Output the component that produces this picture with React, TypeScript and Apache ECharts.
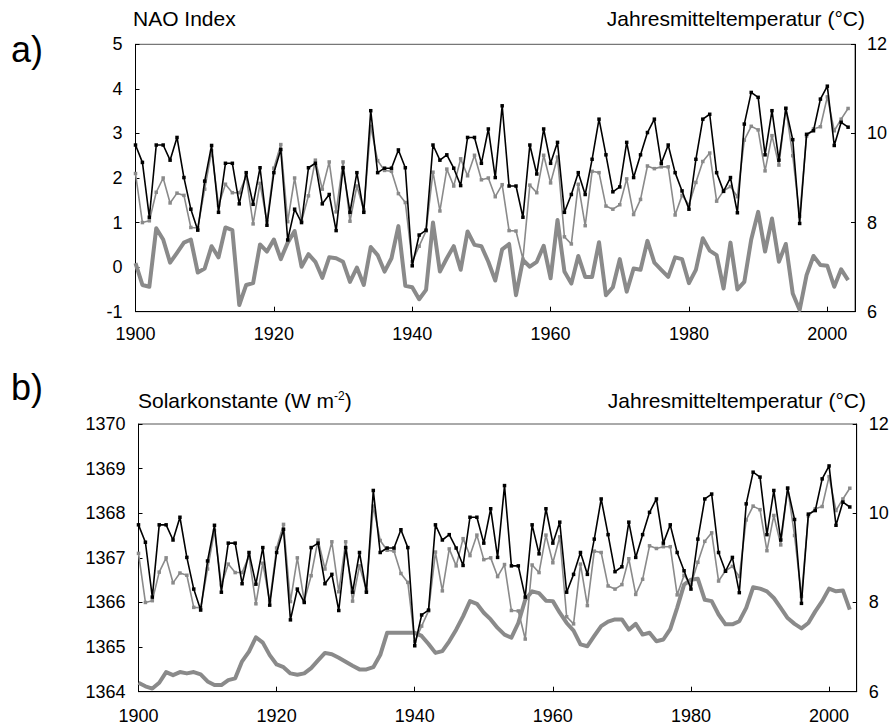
import React, { useEffect, useRef } from "react";
import * as echarts from "echarts";

const FONT = '"Liberation Sans", Arial, sans-serif';

const years: number[] = Array.from({ length: 104 }, (_, i) => 1900 + i);

// Observed annual mean temperature (°C) – black line
const tempObserved: number[] = [
  9.74, 9.35, 8.12, 9.74, 9.74, 9.40, 9.91, 9.01, 8.30, 7.83,
  8.93, 9.73, 8.23, 9.33, 9.33, 8.42, 9.12, 8.41, 9.23, 7.94,
  9.12, 9.64, 7.61, 8.30, 8.00, 9.23, 9.33, 8.42, 8.63, 7.82,
  9.23, 8.23, 9.12, 8.23, 10.51, 9.12, 9.22, 9.22, 9.63, 9.23,
  7.03, 7.72, 7.83, 9.74, 9.40, 9.52, 9.22, 8.83, 9.91, 9.91,
  9.33, 10.10, 9.01, 10.62, 8.82, 8.82, 8.12, 9.74, 9.09, 10.10,
  9.33, 9.80, 8.23, 8.63, 9.12, 8.63, 9.42, 10.32, 9.52, 8.69,
  8.80, 9.80, 9.01, 9.52, 10.02, 10.32, 9.33, 9.74, 9.12, 8.71,
  8.30, 9.42, 10.32, 10.43, 9.12, 8.70, 9.01, 8.22, 10.21, 10.92,
  10.81, 9.52, 10.51, 9.40, 10.56, 9.86, 7.98, 9.98, 10.06, 10.77,
  11.06, 9.73, 10.25, 10.14,
];

// Second annual mean temperature series (°C) – grey thin line
const tempGrey: number[] = [
  9.10, 8.00, 8.04, 8.68, 9.00, 8.44, 8.66, 8.61, 7.89, 7.88,
  8.75, 9.61, 8.39, 8.86, 8.67, 8.67, 9.04, 7.97, 8.88, 8.02,
  9.22, 9.75, 8.02, 9.00, 8.03, 8.60, 9.40, 8.75, 9.36, 8.24,
  9.36, 8.03, 8.82, 8.28, 10.16, 9.39, 9.17, 9.15, 8.65, 8.45,
  7.12, 7.47, 7.81, 9.13, 8.26, 9.20, 8.82, 9.43, 9.05, 9.51,
  8.96, 9.00, 8.58, 8.85, 7.82, 7.81, 7.18, 8.84, 8.67, 9.51,
  8.89, 9.47, 7.68, 7.52, 8.86, 7.93, 9.15, 9.12, 8.37, 8.30,
  8.40, 8.98, 8.18, 8.52, 9.27, 9.21, 9.25, 9.25, 8.17, 8.61,
  8.40, 8.90, 9.37, 9.56, 8.48, 8.71, 8.81, 8.58, 9.85, 10.16,
  10.08, 9.16, 9.95, 9.29, 10.57, 9.50, 8.14, 9.94, 10.10, 10.15,
  10.82, 10.06, 10.32, 10.56,
];

// NAO index – thick grey line, panel a
const naoIndex: number[] = [
  0.09, -0.40, -0.44, 0.87, 0.62, 0.10, 0.32, 0.55, 0.62, -0.12,
  -0.03, 0.47, 0.22, 0.89, 0.83, -0.85, -0.40, -0.36, 0.51, 0.35,
  0.62, 0.18, 0.55, 0.81, 0.01, 0.29, 0.12, -0.24, 0.22, 0.20,
  0.12, -0.33, -0.01, -0.40, 0.45, 0.27, -0.10, 0.20, 0.92, -0.42,
  -0.45, -0.72, -0.51, 1.00, -0.10, 0.20, 0.47, -0.06, 0.80, 0.50,
  0.47, 0.12, -0.30, 0.40, 0.52, -0.63, 0.16, 0.01, 0.12, 0.48,
  -0.25, 1.06, -0.10, -0.37, 0.25, -0.22, -0.22, 0.56, -0.63, -0.45,
  0.18, -0.55, -0.03, -0.06, 0.59, 0.10, -0.06, -0.22, 0.22, 0.18,
  -0.36, -0.06, 0.65, 0.37, 0.27, -0.48, 0.55, -0.50, -0.33, 0.62,
  1.24, 0.35, 1.09, 0.12, 0.52, -0.59, -0.96, -0.18, 0.25, 0.05,
  0.03, -0.44, -0.05, -0.29,
];

// Solar constant (W m-2) – thick grey line, panel b
const solarConstant: number[] = [
  1364.20, 1364.12, 1364.07, 1364.20, 1364.44, 1364.37, 1364.44, 1364.41, 1364.44, 1364.39,
  1364.23, 1364.15, 1364.15, 1364.26, 1364.30, 1364.68, 1364.90, 1365.22, 1365.10, 1364.82,
  1364.61, 1364.55, 1364.41, 1364.38, 1364.41, 1364.53, 1364.70, 1364.87, 1364.84, 1364.76,
  1364.67, 1364.58, 1364.50, 1364.50, 1364.55, 1364.82, 1365.32, 1365.32, 1365.32, 1365.32,
  1365.32, 1365.25, 1365.07, 1364.87, 1364.91, 1365.13, 1365.39, 1365.69, 1366.03, 1365.97,
  1365.77, 1365.62, 1365.43, 1365.28, 1365.21, 1365.54, 1366.06, 1366.25, 1366.21, 1366.04,
  1366.03, 1365.77, 1365.54, 1365.37, 1365.06, 1365.02, 1365.25, 1365.47, 1365.57, 1365.62,
  1365.62, 1365.39, 1365.52, 1365.28, 1365.32, 1365.13, 1365.17, 1365.40, 1365.88, 1366.40,
  1366.51, 1366.53, 1366.06, 1366.03, 1365.73, 1365.51, 1365.51, 1365.58, 1365.88, 1366.34,
  1366.31, 1366.25, 1366.10, 1365.88, 1365.65, 1365.52, 1365.42, 1365.54, 1365.80, 1366.03,
  1366.31, 1366.25, 1366.27, 1365.84,
];

const xTickLabels = ["1900", "1920", "1940", "1960", "1980", "2000"];

const GREY = "#8a8a8a";

function pairs(vals: number[]) {
  return years.map((y, i) => [y, vals[i]]);
}

export default function App() {
  const ref = useRef<HTMLDivElement>(null);
  useEffect(() => {
    if (!ref.current) return;
    const chart = echarts.init(ref.current, undefined, { renderer: "svg" });

    const axisLine = { show: true, onZero: false, lineStyle: { color: "#000", width: 1 } };
    const label = (margin: number) => ({
      color: "#000",
      fontSize: 18,
      fontFamily: FONT,
      margin,
      formatter: (v: number) => String(v),
    });

    const xAxisCommon = (gridIndex: number, margin: number) => ({
      type: "value",
      gridIndex,
      min: 1900,
      max: 2004,
      interval: 20,
      axisLine,
      axisTick: { show: true, inside: true, length: 5, lineStyle: { color: "#000" } },
      axisLabel: {
        ...label(margin),
        showMaxLabel: false,
        formatter: (v: number) => (xTickLabels.includes(String(v)) ? String(v) : ""),
      },
      splitLine: { show: false },
    });

    const yAxis = (
      gridIndex: number,
      position: string,
      min: number,
      max: number,
      interval: number,
      margin: number
    ) => ({
      type: "value",
      gridIndex,
      position,
      min,
      max,
      interval,
      axisLine,
      axisTick: { show: true, inside: true, length: 4, lineStyle: { color: "#000" } },
      axisLabel: label(margin),
      splitLine: { show: false },
    });

    const thick = (xi: number, yi: number, vals: number[]) => ({
      type: "line",
      xAxisIndex: xi,
      yAxisIndex: yi,
      data: pairs(vals),
      symbol: "none",
      lineStyle: { color: GREY, width: 4, join: "round" },
      silent: true,
      z: 2,
    });
    const thin = (xi: number, yi: number, vals: number[], color: string, z: number) => ({
      type: "line",
      xAxisIndex: xi,
      yAxisIndex: yi,
      data: pairs(vals),
      symbol: "rect",
      symbolSize: 3.5,
      showAllSymbol: true,
      itemStyle: { color },
      lineStyle: { color, width: 1.6 },
      silent: true,
      z,
    });

    const option: any = {
      animation: false,
      grid: [
        { left: 135.5, top: 44.3, width: 719.5, height: 267.4, show: true, borderColor: "#555", borderWidth: 1, backgroundColor: "transparent" },
        { left: 138.5, top: 424, width: 718.2, height: 267.7, show: true, borderColor: "#555", borderWidth: 1, backgroundColor: "transparent" },
      ],
      xAxis: [xAxisCommon(0, 13.5), xAxisCommon(1, 15)],
      yAxis: [
        yAxis(0, "left", -1, 5, 1, 13),
        yAxis(0, "right", 6, 12, 2, 12),
        yAxis(1, "left", 1364, 1370, 1, 13),
        yAxis(1, "right", 6, 12, 2, 12),
      ],
      series: [
        thick(0, 0, naoIndex),
        thin(0, 1, tempGrey, GREY, 3),
        thin(0, 1, tempObserved, "#000", 4),
        thick(1, 2, solarConstant),
        thin(1, 3, tempGrey, GREY, 3),
        thin(1, 3, tempObserved, "#000", 4),
      ],
      graphic: [
        { type: "text", x: 11, y: 49.4, style: { text: "a)", fontSize: 36, fontFamily: FONT, fill: "#000", textVerticalAlign: "middle" } },
        { type: "text", x: 11, y: 387.7, style: { text: "b)", fontSize: 36, fontFamily: FONT, fill: "#000", textVerticalAlign: "middle" } },
        { type: "text", x: 133, y: 18.7, style: { text: "NAO Index", fontSize: 21, fontFamily: FONT, fill: "#000", textVerticalAlign: "middle" } },
        { type: "text", x: 865, y: 18.7, style: { text: "Jahresmitteltemperatur (°C)", fontSize: 21, fontFamily: FONT, fill: "#000", textAlign: "right", textVerticalAlign: "middle" } },
        {
          type: "text",
          x: 138,
          y: 400.5,
          style: {
            text: "{a|Solarkonstante (W m}{s|-2}{a|)}",
            rich: {
              a: { fontSize: 21, fontFamily: FONT, fill: "#000" },
              s: { fontSize: 12, fontFamily: FONT, fill: "#000", verticalAlign: "top" },
            },
            fill: "#000",
            textVerticalAlign: "middle",
          },
        },
        { type: "text", x: 866, y: 400, style: { text: "Jahresmitteltemperatur (°C)", fontSize: 21, fontFamily: FONT, fill: "#000", textAlign: "right", textVerticalAlign: "middle" } },
      ],
    };

    chart.setOption(option);
    return () => chart.dispose();
  }, []);

  return (
    <div
      ref={ref}
      style={{ position: "fixed", left: 0, top: 0, width: 893, height: 726, background: "#fff" }}
    />
  );
}
